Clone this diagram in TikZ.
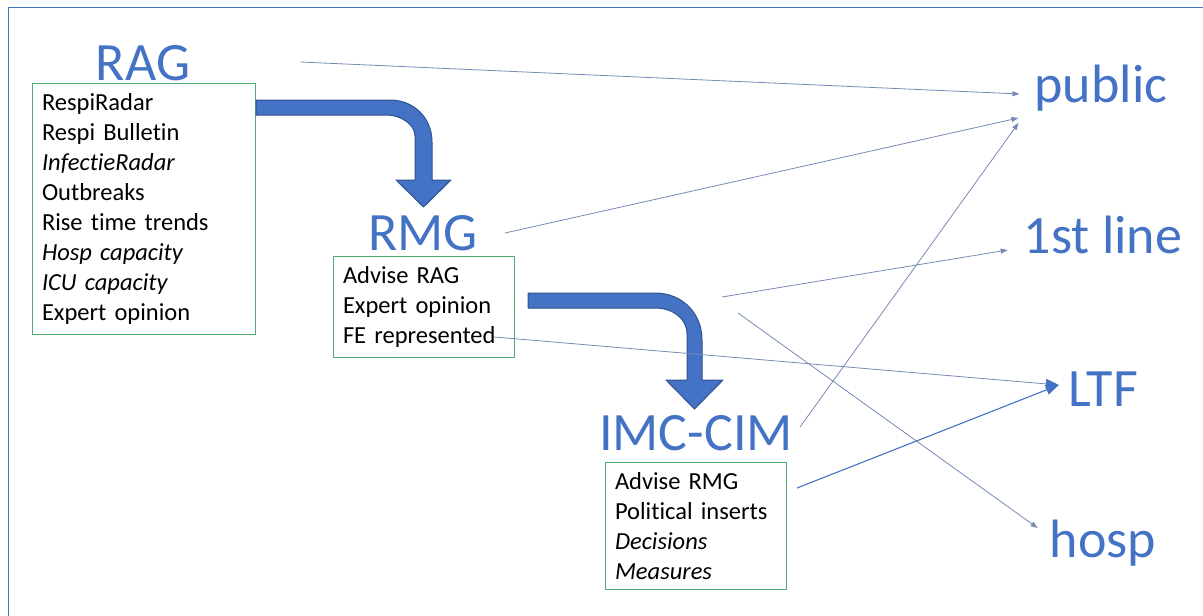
\documentclass[tikz,border=0pt]{standalone}
\usepackage{fontspec}
\setmainfont{Carlito}[Ligatures = NoCommon]
\usetikzlibrary{arrows.meta}

\definecolor{groupblue}{RGB}{68,114,196}
\definecolor{edgeblue}{RGB}{47,82,143}
\definecolor{linkgray}{RGB}{118,138,182}
\definecolor{boxgreen}{RGB}{80,172,118}

\begin{document}
\begin{tikzpicture}[
    x = 1pt,
    y = -1pt,
    group/.style = {text = groupblue,
      font = \fontsize{54}{60}\selectfont,
      inner sep = 0pt,
      anchor = base},
    listbox/.style = {draw = boxgreen,
      line width = 1pt,
      anchor = north west,
      align = left,
      inner xsep = 9.5pt,
      inner ysep = 10pt,
      font = \fontsize{24.5}{30}\selectfont},
    wide/.style = {text width = 204pt},
    narrow/.style = {text width = 162pt},
    flow/.style = {fill = groupblue,
      draw = edgeblue,
      line width = 1pt,
      line join = round},
    link/.style = {draw = linkgray,
      line width = 0.8pt,
      -{Triangle[length = 7pt, width = 5pt]}},
    strong/.style = {draw = groupblue,
      line width = 1.1pt},
    bighead/.style = {-{Triangle[length = 13pt, width = 10pt, color = groupblue]}},
    ]

    \useasboundingbox (0, 0) rectangle (1203, 616);
    \draw [groupblue, line width = 1.8pt] (8.5, 616) -- (8.5, 7.5) -- (1203, 7.5);

    % advisory groups and their boxes
    \node at (143, 80) [group, name = RAG] {RAG};
    \node at (32, 83) [listbox, wide, name = RAG_box]
    {RespiRadar\\ Respi Bulletin\\ \textit{InfectieRadar}\\ Outbreaks\\
      Rise time trends\\ \textit{Hosp capacity}\\ \textit{ICU capacity}\\
      Expert opinion};

    \node at (423, 250) [group, name = RMG] {RMG};
    \node at (333, 256) [listbox, narrow, name = RMG_box]
    {Advise RAG\\ Expert opinion\\ FE represented};

    \node at (696, 450) [group, name = IMC] {IMC-CIM};
    \node at (605, 462) [listbox, narrow, name = IMC_box]
    {Advise RMG\\ Political inserts\\ \textit{Decisions}\\ \textit{Measures}};

    % audiences
    \node at (1101, 102) [group, name = public] {public};
    \node at (1103, 253) [group, name = firstline] {1st line};
    \node at (1103, 406) [group, name = LTF] {LTF};
    \node at (1103, 557) [group, name = hosp] {hosp};

    \coordinate (fan_a) at (722, 297);
    \coordinate (fan_b) at (738, 313);

    % bent block arrows RAG -> RMG -> IMC-CIM
    \filldraw [flow] (256, 100) -- (390, 100)
    .. controls (414, 100) and (432, 118) .. (432, 142)
    -- (432, 180) -- (451, 180) -- (423.5, 207) -- (396, 180) -- (415, 180)
    -- (415, 136) .. controls (415, 124) and (400, 115) .. (387, 115)
    -- (256, 115) -- cycle;

    \filldraw [flow] (528, 293) -- (655, 293)
    .. controls (682, 293) and (702, 313) .. (702, 340)
    -- (702, 380) -- (723, 380) -- (694.5, 409) -- (666, 380) -- (687, 380)
    -- (687, 334) .. controls (687, 318) and (672, 308) .. (655, 308)
    -- (528, 308) -- cycle;

    \draw [link] ([shift = {(110, -18)}]RAG.base east) to
    ([shift = {(-15, -8)}]public.base west);
    \draw [link] ([shift = {(27, -17)}]RMG.base east) to
    ([shift = {(-16, 16)}]public.base west);
    \draw [link] ([shift = {(7, -23)}]IMC.base east) to
    ([shift = {(-16, 21)}]public.base west);

    \draw [link] (fan_a) to ([shift = {(-16, -3)}]firstline.base west);
    \draw [link] (fan_b) to ([shift = {(-12, -29)}]hosp.base west);

    \draw [link, bighead] ([shift = {(-21, -21)}]RMG_box.south east) to
    ([shift = {(-9, -21)}]LTF.base west);
    \draw [link, strong, bighead] ([shift = {(10, 26)}]IMC_box.north east) to
    ([shift = {(-9, -21)}]LTF.base west);
  \end{tikzpicture}
\end{document}
